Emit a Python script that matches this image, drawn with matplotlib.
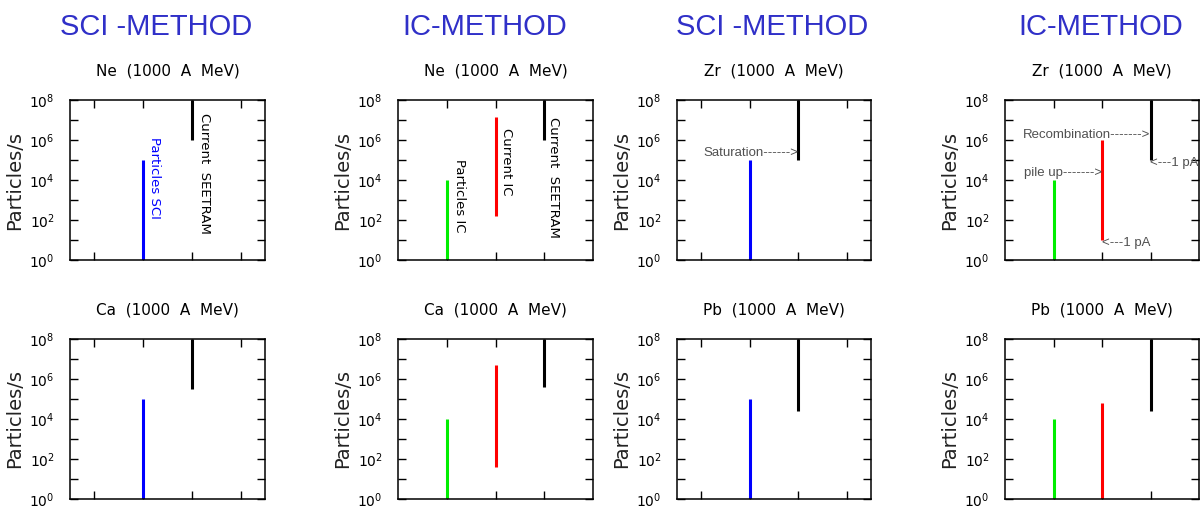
import matplotlib
matplotlib.use("Agg")
import matplotlib.pyplot as plt

# ---------------- data ----------------
elements = ["Ne", "Zr", "Ca", "Pb"]
methods = ["SCI", "IC"]
method_titles = ["SCI -METHOD", "IC-METHOD", "SCI -METHOD", "IC-METHOD"]
subtitle_suffix = "  (1000  A  MeV)"

# SCI method: (low, high) particles/s, per element
sci_particles_low = [1, 1, 1, 1]
sci_particles_high = [1e5, 1e5, 1e5, 1e5]
sci_seetram_low = [1e6, 1e5, 3e5, 2.6e4]
sci_seetram_high = [1e8, 1e8, 1e8, 1e8]

# IC method: (low, high) particles/s, per element
ic_particles_low = [1, 1, 1, 1]
ic_particles_high = [1e4, 1e4, 1e4, 1e4]
ic_current_low = [1.6e2, 1e1, 4e1, 1]
ic_current_high = [1.4e7, 1e6, 5e6, 6e4]
ic_seetram_low = [1e6, 1e5, 4e5, 2.6e4]
ic_seetram_high = [1e8, 1e8, 1e8, 1e8]

y_exponents = list(range(0, 9))
sci_xticks = [0.5, 1.5, 2.5, 3.5]
ic_xticks = [1, 2, 3]
sci_positions = [1.5, 2.5]      # particles SCI, current SEETRAM
ic_positions = [1, 2, 3]        # particles IC, current IC, current SEETRAM

# ---------------- layout ----------------
W, H = 1203, 508
fig = plt.figure(figsize=(W / 100, H / 100), dpi=100)
fig.patch.set_facecolor("white")

col_px = [(70, 265), (398, 593), (677, 871), (1005, 1199)]
row_px = [(100, 260), (339, 499)]
title_x = [156, 485, 772, 1101]

for c, t in enumerate(method_titles):
    fig.text(title_x[c] / W, 1 - 27 / H, t, ha="center", va="center",
             fontsize=21, color="#3030c8", family="Liberation Sans")

# panel -> (row, col, element index, method)
panels = [
    (0, 0, 0, "SCI"), (0, 1, 0, "IC"), (0, 2, 1, "SCI"), (0, 3, 1, "IC"),
    (1, 0, 2, "SCI"), (1, 1, 2, "IC"), (1, 2, 3, "SCI"), (1, 3, 3, "IC"),
]

axes = {}
for row, col, ei, meth in panels:
    l, r = col_px[col]
    t, b = row_px[row]
    ax = fig.add_axes([l / W, 1 - b / H, (r - l) / W, (b - t) / H])
    axes[(row, col)] = ax
    ax.set_yscale("log")
    ax.set_ylim(10 ** y_exponents[0], 10 ** y_exponents[-1])
    ax.set_xlim(0, 4)
    ax.set_yticks([10 ** k for k in y_exponents])
    ax.set_yticklabels([f"$10^{{{k}}}$" if k % 2 == 0 else "" for k in y_exponents])
    ax.minorticks_off()
    ax.set_xticks(sci_xticks if meth == "SCI" else ic_xticks)
    ax.set_xticklabels([])
    ax.tick_params(direction="in", length=6, width=1.0, top=True, right=True,
                   labelsize=10, pad=11, colors="black")
    for s in ax.spines.values():
        s.set_linewidth(1.1)
    ax.set_ylabel("Particles/s", fontsize=14, family="DejaVu Sans", color="#222222")
    ax.yaxis.set_label_coords(-0.236, 0.5)
    ax.text(0.5, 1 + 29 / 160, elements[ei] + subtitle_suffix, transform=ax.transAxes,
            ha="center", va="center", fontsize=11, family="DejaVu Sans")

    if meth == "SCI":
        ax.vlines(sci_positions[0], sci_particles_low[ei], sci_particles_high[ei],
                  color="#0000ff", lw=2.2)
        ax.vlines(sci_positions[1], sci_seetram_low[ei], sci_seetram_high[ei],
                  color="black", lw=2.2)
    else:
        ax.vlines(ic_positions[0], ic_particles_low[ei], ic_particles_high[ei],
                  color="#00ee00", lw=2.2)
        ax.vlines(ic_positions[1], ic_current_low[ei], ic_current_high[ei],
                  color="#ff0000", lw=2.2)
        ax.vlines(ic_positions[2], ic_seetram_low[ei], ic_seetram_high[ei],
                  color="black", lw=2.2)

# ---------------- labels on Ne panels ----------------
lab_kw = dict(rotation=-90, ha="left", va="top", fontsize=9.5,
              textcoords="offset points", family="DejaVu Sans")
ax = axes[(0, 0)]
ax.annotate("Particles SCI", xy=(sci_positions[0], 10 ** 6.15), xytext=(3.6, 0),
            color="#0000ff", **lab_kw)
ax.annotate("Current  SEETRAM", xy=(sci_positions[1], 10 ** 7.35), xytext=(4.3, 0),
            color="black", **lab_kw)
ax = axes[(0, 1)]
ax.annotate("Particles IC", xy=(ic_positions[0], 10 ** 5.05), xytext=(4.3, 0),
            color="black", **lab_kw)
ax.annotate("Current IC", xy=(ic_positions[1], 10 ** 6.6), xytext=(3.0, 0),
            color="black", **lab_kw)
ax.annotate("Current  SEETRAM", xy=(ic_positions[2], 10 ** 7.15), xytext=(2.0, 0),
            color="black", **lab_kw)

# ---------------- annotations on Zr panels ----------------
ann_kw = dict(fontsize=9.5, color="#505050", family="Liberation Sans", va="center")
ax = axes[(0, 2)]
ax.text(sci_positions[1], 10 ** 5.35, "Saturation------>", ha="right", **ann_kw)
ax = axes[(0, 3)]
ax.text(ic_positions[2], 10 ** 6.25, "Recombination------->", ha="right", **ann_kw)
ax.text(ic_positions[1], 10 ** 4.35, "pile up------->", ha="right", **ann_kw)
ax.text(ic_positions[2], 10 ** 4.85, "<---1 pA", ha="left", **ann_kw)
ax.text(ic_positions[1], 10 ** 0.85, "<---1 pA", ha="left", **ann_kw)

fig.savefig("out.png", dpi=100, facecolor="white")
